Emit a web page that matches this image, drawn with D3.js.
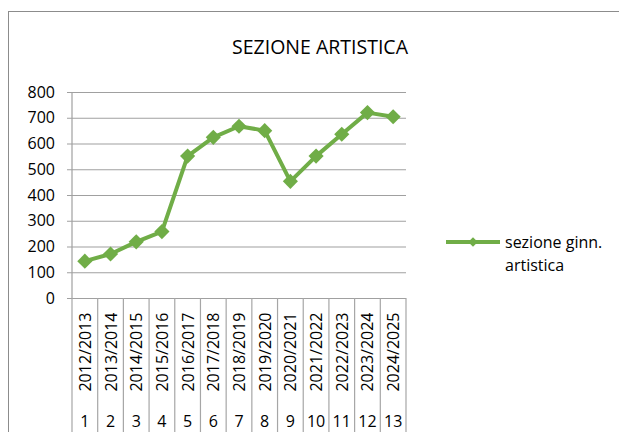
<!DOCTYPE html>
<html>
<head>
<meta charset="utf-8">
<script src="https://d3js.org/d3.v7.min.js"></script>
<style>
  body { margin: 0; background: #fff; }
  svg text { font-family: "Open Sans", sans-serif; fill: #000; }
</style>
</head>
<body>
<div id="chart"></div>
<script>
// Chart data
var years = ["2012/2013", "2013/2014", "2014/2015", "2015/2016", "2016/2017", "2017/2018",
  "2018/2019", "2019/2020", "2020/2021", "2021/2022", "2022/2023", "2023/2024", "2024/2025"];
var indexes = ["1", "2", "3", "4", "5", "6", "7", "8", "9", "10", "11", "12", "13"];
var values = [143, 171, 218, 258, 551, 624, 667, 650, 453, 551, 636, 720, 704];
var yTicks = [0, 100, 200, 300, 400, 500, 600, 700, 800];
var seriesName = ["sezione ginn.", "artistica"];
var title = "SEZIONE ARTISTICA";

var svgWidth = 619;
var svgHeight = 432;
var green = "#70ad47";

// plot area
var plot = { left: 72, right: 406, top: 92, bottom: 298 };

var svg = d3.select("#chart")
  .append("svg")
  .attr("width", svgWidth)
  .attr("height", svgHeight);

// outer chart border (runs off the page right and bottom)
svg.append("rect")
  .attr("x", 8.5)
  .attr("y", 11.5)
  .attr("width", 700)
  .attr("height", 500)
  .attr("fill", "none")
  .attr("stroke", "#8c8c8c");

svg.append("text")
  .attr("x", 320)
  .attr("y", 54)
  .attr("text-anchor", "middle")
  .style("font-size", "19.5px")
  .text(title);

var xScale = d3.scaleBand()
  .domain(years)
  .range([plot.left, plot.right]);

var yScale = d3.scaleLinear()
  .domain([0, 800])
  .range([plot.bottom, plot.top]);

// gridlines + y labels
var yAxis = d3.axisLeft(yScale)
  .tickValues(yTicks)
  .tickSize(-(plot.right - plot.left))
  .tickPadding(17);

var yG = svg.append("g")
  .attr("transform", `translate(${plot.left},0)`)
  .call(yAxis);
yG.select(".domain").remove();
yG.selectAll(".tick line")
  .attr("x1", -5)
  .attr("stroke", "#a0a0a0")
  .attr("stroke-width", 1.2);
yG.selectAll(".tick text")
  .style("font-size", "16px")
  .style("font-family", "'Open Sans', sans-serif")
  .attr("fill", "#000");

// vertical axis line
svg.append("line")
  .attr("x1", plot.left).attr("x2", plot.left)
  .attr("y1", plot.top).attr("y2", plot.bottom)
  .attr("stroke", "#a0a0a0").attr("stroke-width", 1.2);

// category separators below the axis
var bounds = years.map(function(d) { return xScale(d); }).concat([plot.right]);
svg.selectAll("line.sep")
  .data(bounds)
  .enter()
  .append("line")
  .attr("class", "sep")
  .attr("x1", d => d).attr("x2", d => d)
  .attr("y1", plot.bottom).attr("y2", svgHeight)
  .attr("stroke", "#a6a6a6").attr("stroke-width", 1.2);

// year labels (rotated)
svg.selectAll("text.year")
  .data(years)
  .enter()
  .append("text")
  .attr("class", "year")
  .attr("transform", d => `translate(${xScale(d) + xScale.bandwidth() / 2 + 6},352) rotate(-90)`)
  .attr("text-anchor", "middle")
  .style("font-size", "16px")
  .text(d => d);

// index labels
svg.selectAll("text.idx")
  .data(indexes)
  .enter()
  .append("text")
  .attr("class", "idx")
  .attr("x", (d, i) => xScale(years[i]) + xScale.bandwidth() / 2)
  .attr("y", 427)
  .attr("text-anchor", "middle")
  .style("font-size", "16px")
  .text(d => d);

// series line
var line = d3.line()
  .x((d, i) => xScale(years[i]) + xScale.bandwidth() / 2)
  .y(d => yScale(d));

svg.append("path")
  .datum(values)
  .attr("d", line)
  .attr("fill", "none")
  .attr("stroke", green)
  .attr("stroke-width", 4)
  .attr("stroke-linejoin", "round");

var diamond = d3.symbol().type(d3.symbolSquare).size(115);
svg.selectAll("path.marker")
  .data(values)
  .enter()
  .append("path")
  .attr("class", "marker")
  .attr("d", diamond)
  .attr("transform", (d, i) => `translate(${xScale(years[i]) + xScale.bandwidth() / 2},${yScale(d)}) rotate(45)`)
  .attr("fill", green);

// legend
var legend = svg.append("g");
legend.append("line")
  .attr("x1", 446).attr("x2", 500)
  .attr("y1", 242).attr("y2", 242)
  .attr("stroke", green).attr("stroke-width", 4);
legend.append("path")
  .attr("d", d3.symbol().type(d3.symbolSquare).size(45))
  .attr("transform", "translate(473,242) rotate(45)")
  .attr("fill", green);
legend.selectAll("text")
  .data(seriesName)
  .enter()
  .append("text")
  .attr("x", 505)
  .attr("y", (d, i) => 248 + i * 23)
  .style("font-size", "16px")
  .text(d => d);
</script>
</body>
</html>
